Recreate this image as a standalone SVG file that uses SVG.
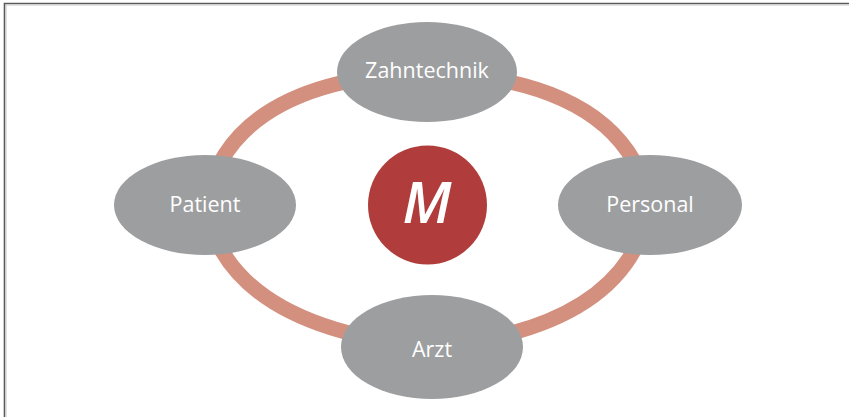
<svg xmlns="http://www.w3.org/2000/svg" width="849" height="417" viewBox="0 0 849 417">
  <style>
    .ring { fill: none; stroke: #d3907f; stroke-width: 15; }
    .node { fill: #9d9ea0; }
    .lbl { fill: #ffffff; font-family: "Open Sans", Lato, "Liberation Sans", sans-serif; font-size: 21.5px; text-anchor: middle; }
  </style>
  <rect width="849" height="417" fill="#ffffff"/>
  <path d="M4.5,417 V3.5 H849" fill="none" stroke="#5a5a5a" stroke-width="1.6"/>
  <path d="M6,417 V5 H849" fill="none" stroke="#c8c8c8" stroke-width="1"/>
  <g id="connectors">
    <path class="ring" d="M205,205 Q230,80 427,72"/>
    <path class="ring" d="M650,205 Q625,80 427,72"/>
    <path class="ring" d="M205,205 Q228,328 432,347"/>
    <path class="ring" d="M650,205 Q628,328 432,347"/>
  </g>
  <g id="zahntechnik">
    <ellipse class="node" cx="427" cy="72" rx="90" ry="50"/>
    <text class="lbl" x="427" y="78">Zahntechnik</text>
  </g>
  <g id="patient">
    <ellipse class="node" cx="205" cy="205" rx="91" ry="50"/>
    <text class="lbl" x="205" y="212">Patient</text>
  </g>
  <g id="personal">
    <ellipse class="node" cx="650" cy="205" rx="92" ry="50"/>
    <text class="lbl" x="650" y="212">Personal</text>
  </g>
  <g id="arzt">
    <ellipse class="node" cx="432" cy="347" rx="91" ry="52"/>
    <text class="lbl" x="432" y="357">Arzt</text>
  </g>
  <g id="m">
    <circle cx="427.5" cy="205" r="59.5" fill="#b03d3b"/>
    <text x="427" y="223" fill="#ffffff" font-family="'Open Sans', Lato, 'Liberation Sans', sans-serif" font-style="italic" font-weight="600" font-size="57" text-anchor="middle">M</text>
  </g>
</svg>
